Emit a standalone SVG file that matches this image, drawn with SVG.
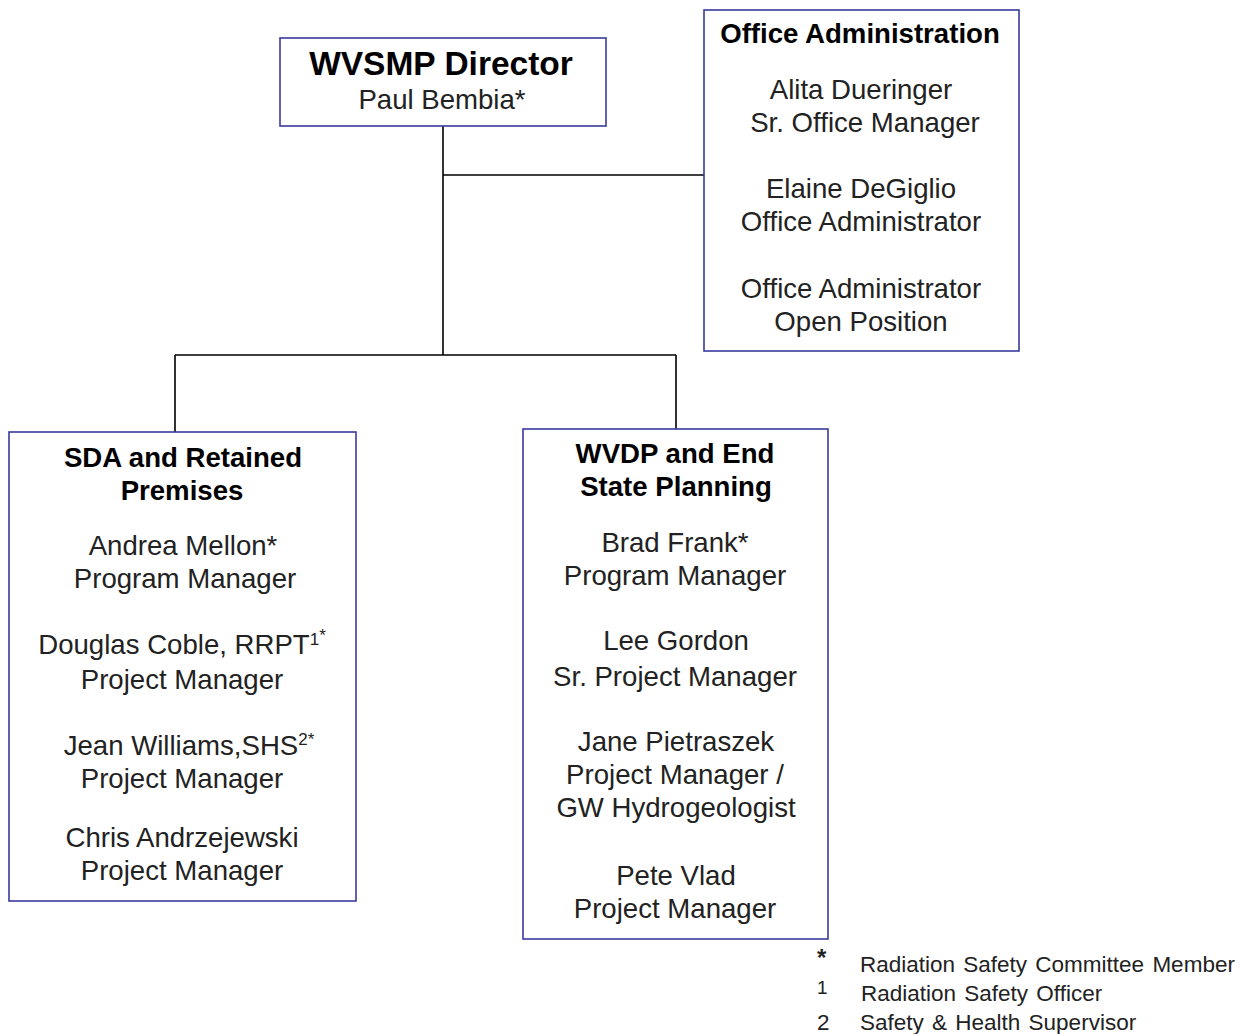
<svg xmlns="http://www.w3.org/2000/svg" width="1246" height="1034" viewBox="0 0 1246 1034">
<style>
.box{fill:#fff;stroke:#3a3a9e;stroke-width:1.6}
.t{font-family:"Liberation Sans",Arial,sans-serif;font-size:27.6px;fill:#222;text-anchor:middle}
.b{font-weight:bold;fill:#000}
.big{font-size:33.5px}
.lg{font-family:"Liberation Sans",Arial,sans-serif;font-size:22.5px;fill:#222}
.sup{font-size:17px}
.conn{stroke:#000;stroke-width:1.6;fill:none}
</style>
<rect width="1246" height="1034" fill="#fff"/>
<g id="connectors">
<path class="conn" d="M443 126V355M443 175H704M175 355H676M175 355V432M676 355V429"/>
</g>
<g id="director">
<rect class="box" x="280" y="38" width="326" height="88"/>
<text class="t b big" x="441" y="75">WVSMP Director</text>
<text class="t" x="442" y="109">Paul Bembia*</text>
</g>
<g id="office">
<rect class="box" x="704" y="10" width="315" height="341"/>
<text class="t b" x="860" y="43">Office Administration</text>
<text class="t" x="861" y="99">Alita Dueringer</text>
<text class="t" x="865" y="132">Sr. Office Manager</text>
<text class="t" x="861" y="198">Elaine DeGiglio</text>
<text class="t" x="861" y="231">Office Administrator</text>
<text class="t" x="861" y="298">Office Administrator</text>
<text class="t" x="861" y="331">Open Position</text>
</g>
<g id="sda">
<rect class="box" x="9" y="432" width="347" height="469"/>
<text class="t b" x="183" y="467">SDA and Retained</text>
<text class="t b" x="182" y="500">Premises</text>
<text class="t" x="183" y="555">Andrea Mellon*</text>
<text class="t" x="185" y="588">Program Manager</text>
<text class="t" x="182" y="654">Douglas Coble, RRPT<tspan class="sup" dy="-9">1</tspan><tspan class="sup" dy="-4">*</tspan></text>
<text class="t" x="182" y="689">Project Manager</text>
<text class="t" x="189" y="755">Jean Williams,SHS<tspan class="sup" dy="-10">2*</tspan></text>
<text class="t" x="182" y="788">Project Manager</text>
<text class="t" x="182" y="847">Chris Andrzejewski</text>
<text class="t" x="182" y="880">Project Manager</text>
</g>
<g id="wvdp">
<rect class="box" x="523" y="429" width="305" height="510"/>
<text class="t b" x="675" y="463">WVDP and End</text>
<text class="t b" x="676" y="496">State Planning</text>
<text class="t" x="675" y="552">Brad Frank*</text>
<text class="t" x="675" y="585">Program Manager</text>
<text class="t" x="676" y="650">Lee Gordon</text>
<text class="t" x="675" y="686">Sr. Project Manager</text>
<text class="t" x="676" y="751">Jane Pietraszek</text>
<text class="t" x="675" y="784">Project Manager /</text>
<text class="t" x="676" y="817">GW Hydrogeologist</text>
<text class="t" x="676" y="885">Pete Vlad</text>
<text class="t" x="675" y="918">Project Manager</text>
</g>
<g id="legend">
<text class="lg" x="817" y="966" style="font-weight:bold;font-size:24px">*</text>
<text class="lg" x="860" y="972" word-spacing="2">Radiation Safety Committee Member</text>
<text class="lg" x="817" y="994" style="font-size:19px">1</text>
<text class="lg" x="861" y="1001" word-spacing="2">Radiation Safety Officer</text>
<text class="lg" x="817" y="1030">2</text>
<text class="lg" x="860" y="1030" word-spacing="2">Safety &amp; Health Supervisor</text>
</g>
</svg>
